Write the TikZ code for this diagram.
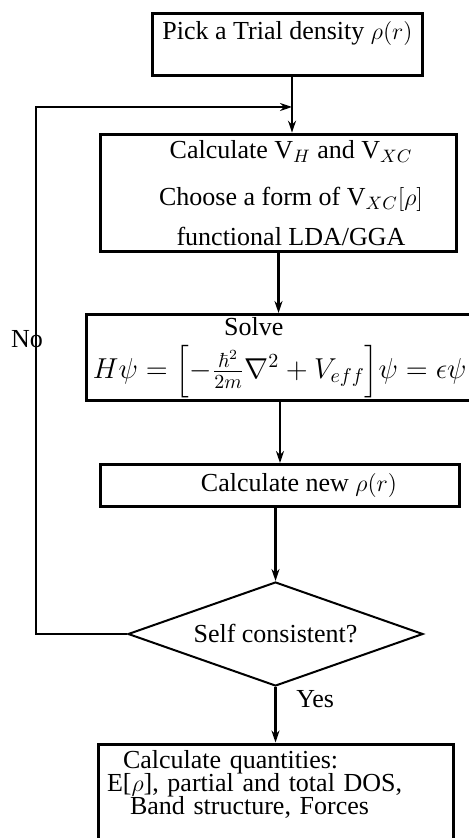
\documentclass[tikz,border=0pt]{standalone}
\usepackage{amsmath, amssymb}
\usepackage[no-math]{fontspec}
\setmainfont{Liberation Serif}
\usepackage{tikz}
\usetikzlibrary{shapes.geometric, arrows.meta, positioning, calc}
\newcommand{\flowfont}{\fontsize{13}{15.6}\selectfont}
\newcommand{\eqnfont}{\fontsize{14.6}{17.5}\selectfont}

\begin{document}
\begin{tikzpicture}[
    x=0.5pt, y=-0.5pt,
    flowbox/.style={rectangle, draw, line width=1.5pt, inner sep=3pt, align=center, font=\flowfont},
    decision/.style={diamond, draw, line width=1pt, shape aspect=2.8, inner sep=0pt, minimum width=147.5pt, minimum height=52pt, font=\flowfont},
    arrow/.style={-{Stealth[length=6pt, width=4pt]}, line width=1.1pt},
    lbl/.style={font=\flowfont},
]
    \useasboundingbox (0,0) rectangle (469,838);

    \node[flowbox, minimum width=135pt, minimum height=31pt, text depth=14pt] (trial) at (287.5,44.5) {Pick a Trial density $\rho(r)$};
    \node[flowbox, minimum width=178pt, minimum height=57.5pt] (hxc) at (278.5,193) {
        \hspace*{12.5pt}Calculate V$_H$ and V$_{XC}$\\[8pt]
        \hspace*{12.5pt}Choose a form of V$_{XC}[\rho]$\\[4.5pt]
        \hspace*{12.5pt}functional LDA/GGA
    };
    \node[flowbox, minimum width=191pt, minimum height=43pt, inner ysep=1pt] (solve) at (279.75,357.5) {
        Solve\hspace*{26pt}\\[3.5pt]
        {\eqnfont$H\psi = \Bigl[-\frac{\hbar^2}{2m}\nabla^2 + V_{eff}\Bigr]\psi = \epsilon\psi$}
    };
    \node[flowbox, minimum width=179.5pt, minimum height=21pt] (newrho) at (280,485.5) {\hspace*{19pt}Calculate new $\rho(r)$};
    \node[decision] (scf) at (275.5,634) {Self consistent?};
    \node[flowbox, anchor=north, minimum width=177.5pt, text width=169pt, inner xsep=4.25pt, align=left, text depth=45pt] (quant) at (276,742.5) {
        \hspace*{8pt}Calculate quantities:\\[-4pt]
        E[$\rho$], partial and total DOS,\\[-4pt]
        \hspace*{11.5pt}Band structure, Forces
    };

    \coordinate (merge) at (292,107);
    \coordinate (back) at (36,634);

    \draw[arrow] (trial.south -| merge) -- (hxc.north -| merge);
    \draw[arrow] (hxc.south) -- (hxc.south |- solve.north);
    \draw[arrow] (solve.south -| newrho.north) -- (newrho.north);
    \draw[arrow] (newrho.south -| scf.north) -- (scf.north);
    \draw[arrow] (scf.south) -- node[lbl, pos=0.22, right=6.5pt] {Yes} (scf.south |- quant.north);
    \draw[arrow] (scf.west) -- (back) |- node[lbl, pos=0.28, xshift=-4.5pt] {No} (merge);
\end{tikzpicture}
\end{document}
